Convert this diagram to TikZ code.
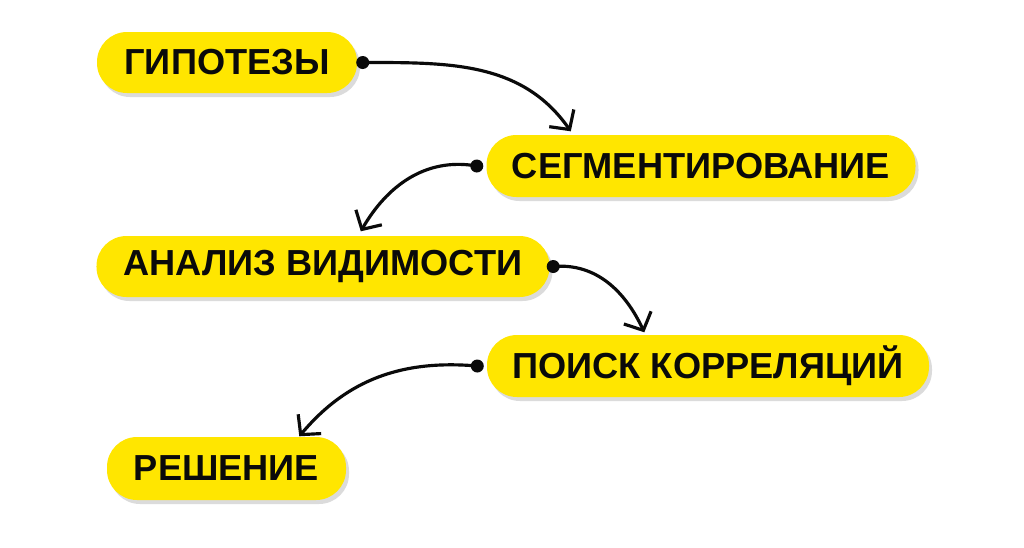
\documentclass[tikz,border=0pt]{standalone}
\usepackage{fontspec}
\setmainfont{Liberation Sans}
\usetikzlibrary{arrows.meta,shadows}
\definecolor{sun}{RGB}{255,230,0}
\definecolor{ink}{RGB}{10,10,10}
\tikzset{
  >={Straight Barb[length=1.4mm,width=3mm,line width=0.9pt]},
  pill/.style={fill=sun,rounded corners=3mm,minimum height=#1,inner sep=0pt,
    font=\fontsize{10.3}{12}\selectfont\bfseries,text=ink,
    drop shadow={shadow xshift=0.03cm,shadow yshift=-0.04cm,fill=black,opacity=0.14}},
  pill/.default=6.1mm,
  link/.style={->,draw=ink,line width=0.9pt},
  dot/.style={circle,fill=ink,inner sep=0pt,minimum size=1.3mm},
}
\begin{document}
\begin{tikzpicture}
  \useasboundingbox[fill=white] (0,0) rectangle (10.24,5.47);
  % steps
  \node[pill,minimum width=26mm] (hyp) at (2.27,4.845) {ГИПОТЕЗЫ};
  \node[pill=6.2mm,minimum width=42.9mm] (seg) at (7.01,3.81) {СЕГМЕНТИРОВАНИЕ};
  \node[pill,minimum width=45.3mm] (vis) at (3.23,2.805) {АНАЛИЗ ВИДИМОСТИ};
  \node[pill=6.2mm,minimum width=44.2mm] (corr) at (7.08,1.81) {ПОИСК КОРРЕЛЯЦИЙ};
  \node[pill=6.3mm,minimum width=23.9mm] (sol) at (2.265,0.785) {РЕШЕНИЕ};
  % start dots and arrow ends
  \node[dot] (d1) at ([xshift=0.05cm]hyp.east) {};
  \node[dot] (d2) at ([xshift=-0.09cm]seg.west) {};
  \node[dot] (d3) at ([xshift=0.03cm]vis.east) {};
  \node[dot] (d4) at ([xshift=-0.09cm]corr.west) {};
  \coordinate (e1) at ([xshift=0.85cm,yshift=0.03cm]seg.north west);
  \coordinate (e2) at ([xshift=2.65cm,yshift=0.04cm]vis.north west);
  \coordinate (e3) at ([xshift=1.58cm,yshift=0.02cm]corr.north west);
  \coordinate (e4) at ([xshift=1.93cm,yshift=0.00cm]sol.north west);
  % links
  \draw[link] (d1.center) to[out=0,in=125] (e1);
  \draw[link] (d2.center) to[out=170,in=60] (e2);
  \draw[link] (d3.center) to[out=5,in=115] (e3);
  \draw[link] (d4.center) to[out=175,in=50] (e4);
\end{tikzpicture}
\end{document}
